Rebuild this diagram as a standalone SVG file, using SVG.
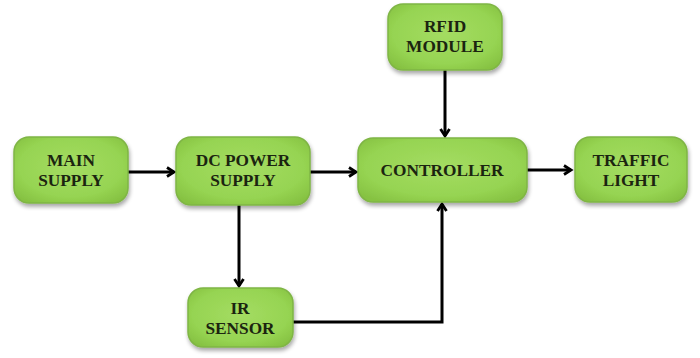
<svg xmlns="http://www.w3.org/2000/svg" width="700" height="358" viewBox="0 0 700 358">
<style>
.box{fill:url(#g);stroke:#7fb545;stroke-width:1.5;filter:url(#sh)}
.t{font-family:"Liberation Serif","Times New Roman",serif;font-weight:bold;font-size:17.3px;fill:#1b2410;text-anchor:middle}
.c{stroke:#000;stroke-width:3;fill:none;marker-end:url(#ah)}
</style>
<defs>
<radialGradient id="g" cx="0.5" cy="0.45" r="0.65">
<stop offset="0" stop-color="#a4dc62"/>
<stop offset="0.7" stop-color="#96d452"/>
<stop offset="1" stop-color="#86c242"/>
</radialGradient>
<filter id="sh" x="-10%" y="-10%" width="125%" height="135%">
<feGaussianBlur in="SourceAlpha" stdDeviation="2"/>
<feOffset dx="1" dy="3" result="b"/>
<feComponentTransfer><feFuncA type="linear" slope="0.35"/></feComponentTransfer>
<feMerge><feMergeNode/><feMergeNode in="SourceGraphic"/></feMerge>
</filter>
<marker id="ah" markerWidth="12" markerHeight="12" refX="8" refY="6" orient="auto" markerUnits="userSpaceOnUse">
<path d="M1,1.5 L8,6 L1,10.5" fill="none" stroke="#000" stroke-width="2.8"/>
</marker>
</defs>
<g id="connectors">
<path class="c" d="M128,172 L174,172"/>
<path class="c" d="M310,172 L356,172"/>
<path class="c" d="M527,170 L571,170"/>
<path class="c" d="M445,70 L445,136"/>
<path class="c" d="M239,205 L239,286"/>
<path class="c" d="M293,322 L442,322 L442,204"/>
</g>
<g id="main-supply">
<rect class="box" x="14" y="137" width="114" height="66" rx="15"/>
<text class="t" x="71" y="166">MAIN</text>
<text class="t" x="71" y="186">SUPPLY</text>
</g>
<g id="dc-power-supply">
<rect class="box" x="176" y="137" width="134" height="68" rx="15"/>
<text class="t" x="243" y="166">DC POWER</text>
<text class="t" x="243" y="186">SUPPLY</text>
</g>
<g id="rfid-module">
<rect class="box" x="388" y="4" width="114" height="66" rx="15"/>
<text class="t" x="445" y="32">RFID</text>
<text class="t" x="445" y="52">MODULE</text>
</g>
<g id="controller">
<rect class="box" x="358" y="138" width="169" height="64" rx="15"/>
<text class="t" x="442" y="176">CONTROLLER</text>
</g>
<g id="traffic-light">
<rect class="box" x="575" y="137" width="112" height="65" rx="15"/>
<text class="t" x="631" y="166">TRAFFIC</text>
<text class="t" x="631" y="186">LIGHT</text>
</g>
<g id="ir-sensor">
<rect class="box" x="188" y="288" width="105" height="59" rx="15"/>
<text class="t" x="240" y="314">IR</text>
<text class="t" x="240" y="334">SENSOR</text>
</g>
</svg>
